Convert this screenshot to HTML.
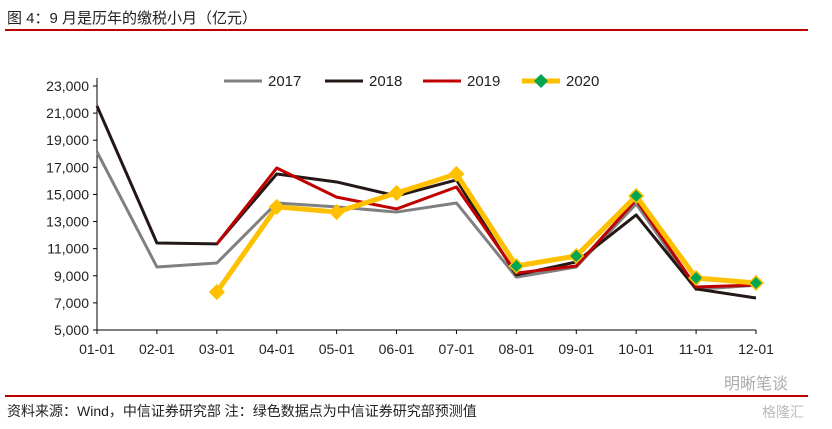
<!DOCTYPE html>
<html><head><meta charset="utf-8"><style>
body{margin:0;background:#fff;width:832px;height:424px;overflow:hidden;font-family:"Liberation Sans","Noto Sans CJK SC",sans-serif}
</style></head><body>
<svg width="832" height="424" xmlns="http://www.w3.org/2000/svg" font-family="Liberation Sans, Noto Sans CJK SC, sans-serif">
<text x="7" y="23" font-size="15" fill="#222">图 4：9 月是历年的缴税小月（亿元）</text>
<rect x="5" y="29" width="803" height="2" fill="#c00000"/>
<g id="axes"></g>
<g id="series"></g>
<g id="legend"></g>
<text x="724" y="389" font-size="16" fill="#aaa">明晰笔谈</text>
<text x="762" y="417" font-size="14" fill="#bbb">格隆汇</text>
<rect x="5" y="395" width="803" height="2" fill="#c00000"/>
<text x="7" y="416" font-size="14" fill="#222">资料来源：Wind，中信证券研究部  注：绿色数据点为中信证券研究部预测值</text>
</svg>
<script>
const categories=["01-01","02-01","03-01","04-01","05-01","06-01","07-01","08-01","09-01","10-01","11-01","12-01"];
const yTicks=[5000,7000,9000,11000,13000,15000,17000,19000,21000,23000];
const s2017=[18140,9650,9940,14370,14080,13700,14370,8900,9650,14300,8000,8300];
const s2018=[21530,11420,11350,16510,15920,14890,16070,9060,10020,13490,8030,7360];
const s2019=[null,null,11350,16950,14800,13930,15550,9200,9720,14600,8170,8320];
const s2020=[null,null,7800,14080,13700,15110,16510,9720,10460,14890,8840,8470];
const forecastFrom=7;
const NS="http://www.w3.org/2000/svg";
const x0=97,x1=756,yb=330,yt=86;
const xs=i=>x0+i*(x1-x0)/(categories.length-1);
const ys=v=>yb-(v-5000)/(23000-5000)*(yb-yt);
function mk(t,a,p){const e=document.createElementNS(NS,t);for(const k in a)e.setAttribute(k,a[k]);p.appendChild(e);return e;}
const ax=document.getElementById('axes');
let e=mk('line',{x1:x0,y1:yt-8,x2:x0,y2:yb,stroke:'#000','stroke-width':1},ax);


e=mk('line',{x1:x0,y1:yb,x2:x1,y2:yb,stroke:'#000','stroke-width':1},ax);


yTicks.forEach(v=>{
 mk('line',{x1:x0-4,y1:ys(v),x2:x0,y2:ys(v),stroke:'#000'},ax);
 const t=mk('text',{x:x0-8,y:ys(v)+5,'text-anchor':'end','font-size':14,fill:'#222'},ax);
 t.textContent=v.toLocaleString('en-US');
 
 
});
categories.forEach((c,i)=>{
 mk('line',{x1:xs(i),y1:yb,x2:xs(i),y2:yb+4,stroke:'#000'},ax);
 const t=mk('text',{x:xs(i),y:yb+24,'text-anchor':'middle','font-size':14,fill:'#222'},ax);
 t.textContent=c;
 
 
});
const sg=document.getElementById('series');
function line(data,color,w,name){
 const pts=[];data.forEach((v,i)=>{if(v!=null)pts.push(xs(i)+','+ys(v));});
 const p=mk('polyline',{points:pts.join(' '),fill:'none',stroke:color,'stroke-width':w,'stroke-linejoin':'round'},sg);
 
 
}
function diamond(x,y,r,fill,stroke,p){
 return mk('polygon',{points:`${x},${y-r} ${x+r},${y} ${x},${y+r} ${x-r},${y}`,fill:fill,stroke:stroke,'stroke-width':1.5},p);
}
line(s2017,'#808080',3,'line-2017');
line(s2018,'#231815',3,'line-2018');
line(s2019,'#c00000',3,'line-2019');
line(s2020,'#ffc000',5,'line-2020');
s2020.forEach((v,i)=>{if(v==null)return;
 const d=diamond(xs(i),ys(v),7,i>=forecastFrom?'#00a651':'#ffc000','#ffc000',sg);
 
 
});
const lg=document.getElementById('legend');
[["2017",'#808080',224,3],["2018",'#231815',325,3],["2019",'#c00000',423,3],["2020",'#ffc000',522,5]].forEach(([n,c,x,w])=>{
 const g=mk('g',{},lg);
 
 
 mk('line',{x1:x,y1:81,x2:x+38,y2:81,stroke:c,'stroke-width':w},g);
 if(n==="2020")diamond(x+19,81,6,'#00a651','#00a651',g);
 const t=mk('text',{x:x+44,y:86,'font-size':15,fill:'#222'},g);t.textContent=n;
});
</script>
</body></html>
